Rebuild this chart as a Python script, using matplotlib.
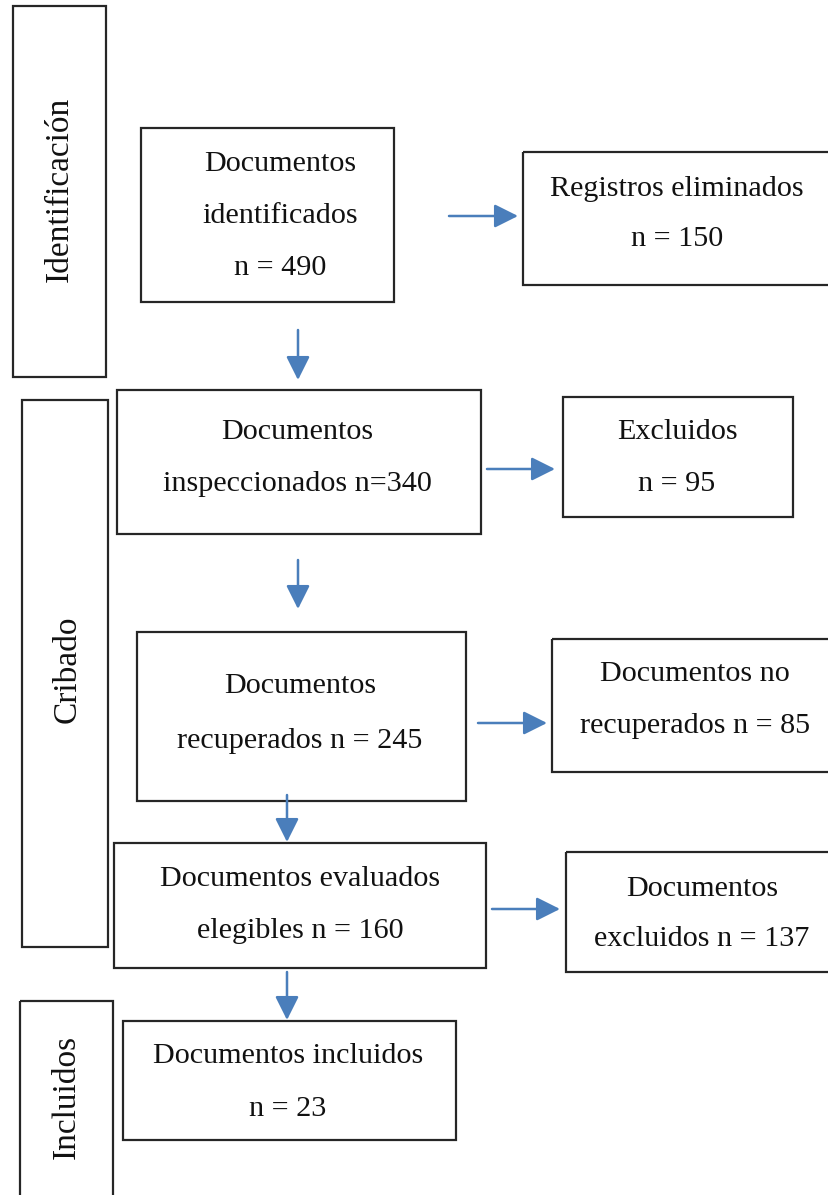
import matplotlib.pyplot as plt
from matplotlib.patches import Rectangle

# Diagrama de flujo PRISMA
plt.rcParams['font.family'] = ['Liberation Serif', 'DejaVu Serif']

# Fases (etiquetas verticales a la izquierda)
fases = ['Identificación', 'Cribado', 'Incluidos']

# Textos de cada caja y su n
cajas_texto = [
    ['Documentos', 'identificados', 'n = {}'],
    ['Registros eliminados', 'n = {}'],
    ['Documentos', 'inspeccionados n={}'],
    ['Excluidos', 'n = {}'],
    ['Documentos', 'recuperados n = {}'],
    ['Documentos no', 'recuperados n = {}'],
    ['Documentos evaluados', 'elegibles n = {}'],
    ['Documentos', 'excluidos n = {}'],
    ['Documentos incluidos', 'n = {}'],
]
n_docs = [490, 150, 340, 95, 245, 85, 160, 137, 23]

# Layout en pixeles (x0, y0, x1, y1) y centro del texto (x, baseline primera linea, interlinea)
fase_cajas = [(13, 6, 106, 377), (22, 400, 108, 947), (20, 1001, 113, 1230)]
fase_txt = [(60, 189), (67, 669), (67, 1097)]

cajas = [
    (141, 128, 394, 302), (523, 152, 840, 285),
    (117, 390, 481, 534), (563, 397, 793, 517),
    (137, 632, 466, 801), (552, 639, 840, 772),
    (114, 843, 486, 968), (566, 852, 840, 972),
    (123, 1021, 456, 1140),
]
txt_pos = [
    (280, 171, 52), (677, 196, 50),
    (297, 439, 52), (677, 439, 52),
    (300, 693, 55), (695, 681, 52),
    (300, 886, 52), (702, 896, 50),
    (288, 1063, 53),
]

# flechas (x0, y0, x1, y1)
flechas = [
    (449, 216, 518, 216), (298, 330, 298, 380),
    (487, 469, 555, 469), (298, 560, 298, 609),
    (478, 723, 547, 723), (287, 795, 287, 842),
    (492, 909, 560, 909), (287, 972, 287, 1020),
]

azul = '#4a7ebb'
borde = '#262626'

fig = plt.figure(figsize=(8.29, 11.95), dpi=100)
ax = fig.add_axes([0, 0, 1, 1])
ax.set_xlim(0, 829)
ax.set_ylim(1195, 0)
ax.axis('off')

for (x0, y0, x1, y1), nombre, (tx, ty) in zip(fase_cajas, fases, fase_txt):
    ax.add_patch(Rectangle((x0, y0), x1 - x0, y1 - y0, fill=False,
                           edgecolor=borde, lw=1.6))
    ax.text(tx, ty, nombre, rotation=90, ha='center', va='center',
            fontsize=24, color='#111111')

for (x0, y0, x1, y1), lineas, n, (tx, ty, dy) in zip(cajas, cajas_texto, n_docs, txt_pos):
    ax.add_patch(Rectangle((x0, y0), x1 - x0, y1 - y0, fill=False,
                           edgecolor=borde, lw=1.6))
    for i, linea in enumerate(lineas):
        ax.text(tx, ty + i * dy, linea.format(n), ha='center', va='baseline',
                fontsize=21.7, color='#111111')

for x0, y0, x1, y1 in flechas:
    ax.annotate('', xy=(x1, y1), xytext=(x0, y0),
                arrowprops=dict(arrowstyle='-|>,head_length=0.72,head_width=0.36',
                                mutation_scale=20, color=azul, lw=1.8,
                                shrinkA=0, shrinkB=0))

fig.savefig('out.png', dpi=100)
